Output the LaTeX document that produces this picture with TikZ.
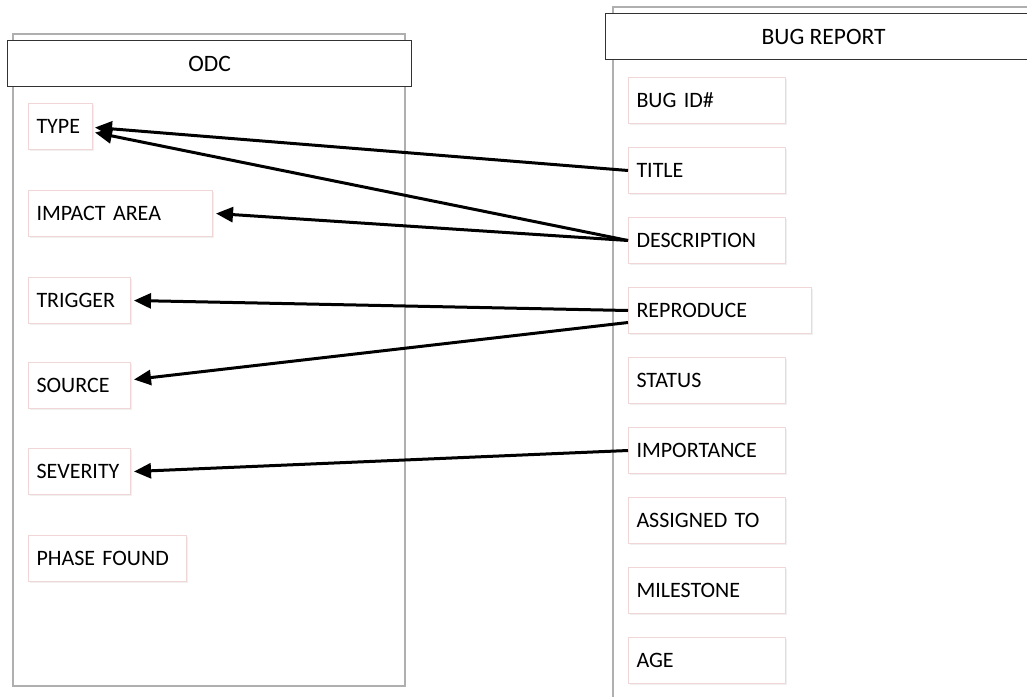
\documentclass[tikz,border=0pt]{standalone}
\usepackage{fontspec}
\setmainfont{Carlito}
\usetikzlibrary{arrows.meta,shadows}

\definecolor{fieldline}{RGB}{240,214,214}
\definecolor{frameline}{RGB}{175,175,175}
\definecolor{headline}{RGB}{50,50,50}

\tikzset{
	field/.style={draw=fieldline, line width=1pt, fill=white, anchor=north west,
		inner xsep=8pt, inner ysep=0pt, minimum height=46pt, align=left,
		drop shadow={opacity=0.12, shadow xshift=1pt, shadow yshift=-1.5pt},
		font=\fontsize{22}{25}\selectfont},
	head/.style={draw=headline, line width=1.3pt, fill=white, anchor=north west,
		minimum height=46pt, font=\fontsize{23.5}{27}\selectfont},
	link/.style={line width=3pt, -{Triangle[length=17pt,width=15pt]}}
}

\begin{document}
\begin{tikzpicture}[x=1pt,y=-1pt]
	\useasboundingbox (0,0) rectangle (1027,696);
	\clip (0,0) rectangle (1027,696);
	
	\draw[frameline, line width=1.3pt] (13,34) rectangle (405,686);	%odc frame
	\draw[frameline, line width=1.3pt] (613,7) rectangle (1045,710);	%bug report frame
	
	\node[head, minimum width=404pt] (odc) at (7,40) {ODC};
	\node[head, minimum width=436pt] (bug) at (605,13) {BUG REPORT};
	
	% odc side
	\node[field, text width=48pt]  (type)     at (28,103) {TYPE};
	\node[field, text width=168pt] (impact)   at (28,190) {IMPACT AREA};
	\node[field, text width=86pt]  (trigger)  at (28,277) {TRIGGER};
	\node[field, text width=86pt]  (source)   at (28,362) {SOURCE};
	\node[field, text width=86pt]  (severity) at (28,448) {SEVERITY};
	\node[field, text width=142pt] (phase)    at (28,535) {PHASE FOUND};
	
	% bug report side
	\node[field, text width=141pt] (bugid)    at (628,77)  {BUG ID\#};
	\node[field, text width=141pt] (title)    at (628,147) {TITLE};
	\node[field, text width=141pt] (descr)    at (628,217) {DESCRIPTION};
	\node[field, text width=167pt] (repro)    at (628,287) {REPRODUCE};
	\node[field, text width=141pt] (status)   at (628,357) {STATUS};
	\node[field, text width=141pt] (import)   at (628,427) {IMPORTANCE};
	\node[field, text width=141pt] (assigned) at (628,497) {ASSIGNED TO};
	\node[field, text width=141pt] (mile)     at (628,567) {MILESTONE};
	\node[field, text width=141pt] (age)      at (628,637) {AGE};
	
	\draw[link] (title.west) -- ([shift={(2pt,-1pt)}]type.east);		%title--type
	\draw[link] (descr.west) -- ([shift={(2pt,-6pt)}]type.east);		%description--type
	\draw[link] (descr.west) -- ([xshift=3pt]impact.east);				%description--impact
	\draw[link] (repro.west) -- ([xshift=3pt]trigger.east);				%reproduce--trigger
	\draw[link] ([yshift=-12pt]repro.west) -- ([shift={(3pt,6pt)}]source.east);	%reproduce--source
	\draw[link] (import.west) -- ([xshift=3pt]severity.east);			%importance--severity
\end{tikzpicture}
\end{document}
